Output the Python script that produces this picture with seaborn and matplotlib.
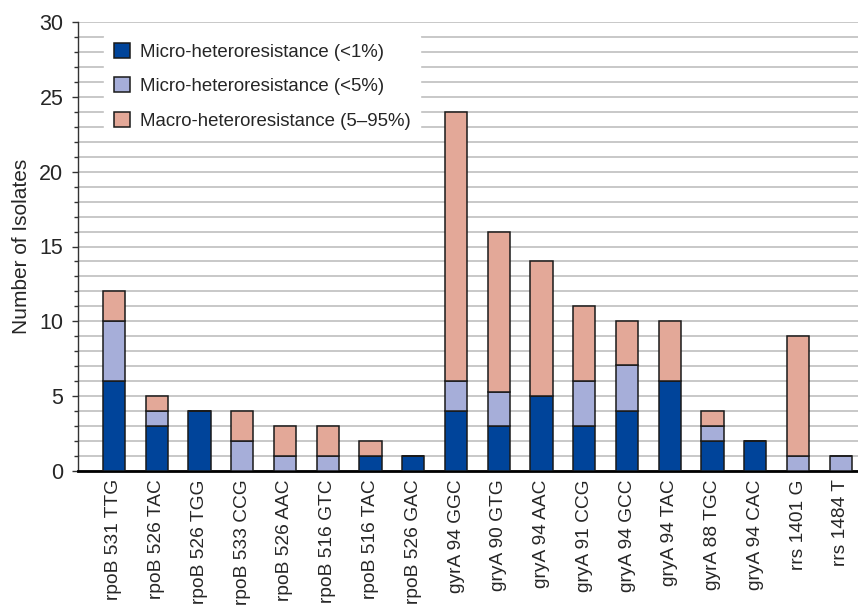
import numpy as np
import pandas as pd
import matplotlib
matplotlib.use("Agg")
import matplotlib.pyplot as plt
from matplotlib.ticker import MultipleLocator
import seaborn as sns

# ── Data ──────────────────────────────────────────────────────────────────────
mutations = ["rpoB 531 TTG", "rpoB 526 TAC", "rpoB 526 TGG", "rpoB 533 CCG",
             "rpoB 526 AAC", "rpoB 516 GTC", "rpoB 516 TAC", "rpoB 526 GAC",
             "gyrA 94 GGC", "gryA 90 GTG", "gryA 94 AAC", "gryA 91 CCG",
             "gryA 94 GCC", "gryA 94 TAC", "gyrA 88 TGC", "gryA 94 CAC",
             "rrs 1401 G", "rrs 1484 T"]
micro_1 = [6, 3, 4, 0, 0, 0, 1, 1, 4, 3, 5, 3, 4, 6, 2, 2, 0, 0]
micro_5 = [4, 1, 0, 2, 1, 1, 0, 0, 2, 2.25, 0, 3, 3.1, 0, 1, 0, 1, 1]
macro   = [2, 1, 0, 2, 2, 2, 1, 0, 18, 10.75, 9, 5, 2.9, 4, 1, 0, 8, 0]

series = ["Micro-heteroresistance (<1%)",
          "Micro-heteroresistance (<5%)",
          "Macro-heteroresistance (5\u201395%)"]
colors = ["#00449A", "#A6AED9", "#E3A898"]

sns.set_style("white")
plt.rcParams["font.family"] = ["Liberation Sans", "DejaVu Sans"]

fig = plt.figure(figsize=(8.58, 6.16), dpi=100)
ax = fig.add_axes([78 / 858, 1 - 471 / 616, 780 / 858, 449 / 616])

df = pd.DataFrame({"mutation": mutations, "m1": micro_1, "m5": micro_5, "mac": macro})
bottom = np.zeros(len(df))
for col, name, c in zip(["m1", "m5", "mac"], series, colors):
    sns.barplot(data=df, x="mutation", y=col, color=c, bottom=bottom,
                saturation=1, width=0.52, edgecolor="#1a1a1a", linewidth=1.1,
                label=name, ax=ax, zorder=3)
    bottom = bottom + df[col].values

# ── Axes styling ──────────────────────────────────────────────────────────────
ax.set_ylim(0, 30)
ax.set_xlim(-0.84, 17.4)
ax.yaxis.set_major_locator(MultipleLocator(5))
ax.yaxis.set_minor_locator(MultipleLocator(1))
ax.grid(axis="y", which="both", color="#C8C8C8", linewidth=1.4, zorder=0)
ax.set_axisbelow(True)
ax.tick_params(axis="y", which="major", direction="out", length=4.5, width=1,
               labelsize=15.5, left=True, color="#333333", pad=6)
ax.tick_params(axis="y", which="minor", direction="out", length=3, width=1,
               left=True, color="#333333")
ax.tick_params(axis="x", length=0, labelsize=13.8, pad=6)
plt.setp(ax.get_xticklabels(), rotation=90)
ax.set_xlabel("")
ax.set_ylabel("Number of Isolates", fontsize=15, labelpad=6)

for s in ["top", "right"]:
    ax.spines[s].set_visible(False)
ax.spines["left"].set_color("#333333")
ax.spines["left"].set_linewidth(1)
ax.spines["bottom"].set_color("black")
ax.spines["bottom"].set_linewidth(2)

leg = ax.legend(loc="upper left", bbox_to_anchor=(0.022, 0.995), fontsize=13.4,
                frameon=True, facecolor="white", edgecolor="white", framealpha=1,
                handlelength=0.85, handleheight=0.85, labelspacing=0.9,
                borderpad=0.5, handletextpad=0.55)
leg.set_zorder(5)

fig.savefig("out.png", dpi=100, facecolor="white")
